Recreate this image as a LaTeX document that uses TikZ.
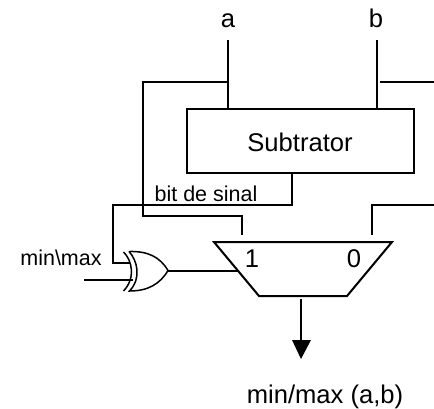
\documentclass[tikz,border=0pt]{standalone}
\usepackage{fontspec}
\setmainfont{Liberation Sans}
\begin{document}
\begin{tikzpicture}[x=1pt,y=-1pt,
  wire/.style={draw=black,line width=2pt,line cap=butt},
  lbl/.style={inner sep=0pt,anchor=base,font=\fontsize{25.6}{30}\selectfont},
  small/.style={inner sep=0pt,anchor=base,font=\fontsize{21.5}{25}\selectfont}]
\useasboundingbox (0,0) rectangle (434,408);
\node[lbl] (a) at (228,27) {a};
\node[lbl] (b) at (376,27) {b};
\draw[wire] (187,109) rectangle (414,172.5);
\node[lbl] (sub) at (300,151) {Subtrator};
\node[small] (bit) at (206,201.5) {bit de sinal};
\node[small] (mm) at (61,265) {min\textbackslash max};
\node[lbl] (one) at (252,267) {1};
\node[lbl] (zero) at (354,267) {0};
\node[lbl] (res) at (325,403) {min/max (a,b)};
\coordinate (atop) at (228.3,40);
\coordinate (abox) at (228.3,109);
\coordinate (btop) at (376.7,40);
\coordinate (bbox) at (376.7,109);
\draw[wire] (atop) -- (abox);
\draw[wire] (btop) -- (bbox);
\coordinate (abr) at (228.3,82);
\coordinate (ma1) at (242,235);
\draw[wire] (abr) -- (143,82) -- (143,216) -- (242,216) -- (ma1);
\coordinate (bbr) at (380,82);
\coordinate (bend) at (434,82);
\draw[wire] (bbr) -- (bend);
\coordinate (ma0) at (372,235);
\draw[wire] (bend |- 0,205) -- (372,205) -- (ma0);
\coordinate (xin1) at (130,263);
\draw[wire] (292,172.5) -- (292,205) -- (113,205) -- (113,263) -- (xin1);
% mux
\draw[line width=2pt,line join=miter] (214,242) -- (392,242) -- (347,296) -- (259,296) -- cycle;
\coordinate (xin2) at (133,280);
\draw[wire] (84,280) -- (xin2);
% xor
\draw[line width=1.5pt] (123.5,252) .. controls (132,260) and (136,278) .. (123.5,291);
\draw[line width=1.5pt] (129,251.5) .. controls (137,260) and (142,278) .. (129.5,291)
  .. controls (148,291) and (160,284) .. (168,270.5)
  .. controls (160,257) and (148,251) .. (129,251.5);
\draw[line width=1.8pt] (168,271) -- (238,271);
% output
\coordinate (outa) at (301,299);
\coordinate (outb) at (301,359);
\draw[wire] (outa) -- (301,342);
\fill (292,340) -- (311,340) -- (outb) -- cycle;
\end{tikzpicture}
\end{document}
